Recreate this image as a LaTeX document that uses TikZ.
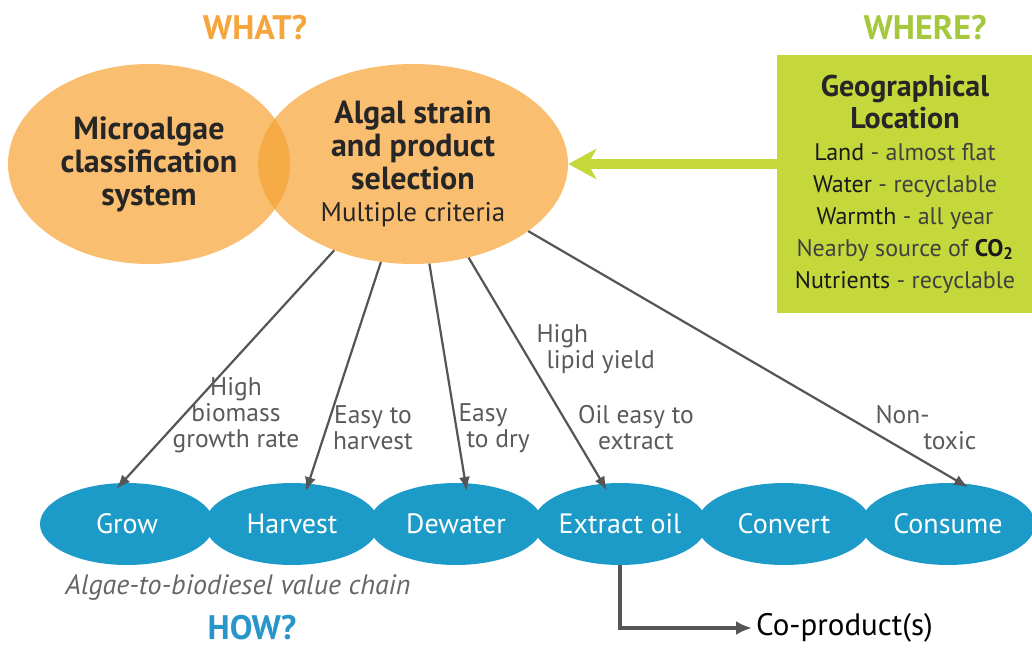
\documentclass[tikz,border=0pt]{standalone}
\usepackage{fontspec}
\setmainfont{PT Sans}
\usetikzlibrary{arrows.meta,positioning,shapes.geometric}
\definecolor{algorange}{HTML}{FABE70}
\definecolor{algoverlap}{HTML}{F5AC46}
\definecolor{whatorange}{HTML}{F5A53C}
\definecolor{wheregreen}{HTML}{A5C83C}
\definecolor{geogreen}{HTML}{C4D83C}
\definecolor{chainblue}{HTML}{1C9BC8}
\definecolor{howblue}{HTML}{2896C8}
\definecolor{critgray}{HTML}{5A5A5A}
\definecolor{linkgray}{HTML}{555555}
\tikzset{
  bigoval/.style={ellipse, fill=algorange, inner sep=0pt, align=center, text=black!85, font=\bfseries\fontsize{32}{33}\selectfont},
  chainoval/.style={ellipse, fill=chainblue, inner sep=0pt, minimum width=174pt, minimum height=82pt, text=white, font=\fontsize{28}{30}\selectfont},
  geobox/.style={rectangle, fill=geogreen, inner sep=0pt, minimum width=256pt, minimum height=258pt, align=center, text=black!75, font=\fontsize{24}{32}\selectfont},
  crit/.style={align=center, text=critgray, font=\fontsize{25.5}{26}\selectfont},
  question/.style={font=\bfseries\fontsize{34}{36}\selectfont},
  link/.style={-{Latex[length=14pt,width=11pt]}, draw=linkgray, line width=2.2pt, shorten >=-8pt},
  geoarrow/.style={-{Stealth[length=28pt,width=30pt,inset=8pt]}, draw=geogreen, line width=10pt},
  coarrow/.style={-{Latex[length=16pt,width=14pt]}, draw=linkgray, line width=4pt}
}
\newcommand{\geokey}[1]{\textcolor{black!90}{#1}}

\begin{document}
\begin{tikzpicture}[x=1pt, y=-1pt]
  \useasboundingbox (0,0) rectangle (1032,650);
  \clip (0,0) rectangle (1032,650);

  % what
  \node[question, text=whatorange] (what) at (255,28) {WHAT?};
  \node[bigoval, minimum width=282pt, minimum height=200pt] (classif) at (149,164) {Microalgae\\classification\\system};
  \node[bigoval, minimum width=310pt, minimum height=200pt] (sel) at (413,164) {Algal strain\\and product\\selection\\[-1pt]\mdseries\fontsize{27}{30}\selectfont Multiple criteria};
  \begin{scope}
    \clip (149,164) ellipse [x radius=141pt, y radius=100pt];
    \fill[algoverlap] (413,164) ellipse [x radius=155pt, y radius=100pt];
  \end{scope}

  % where
  \node[question, text=wheregreen] (where) at (925,28) {WHERE?};
  \node[geobox] (geo) at (905,184) {\textcolor{black!85}{\bfseries\fontsize{30}{32}\selectfont Geographical}\\
    \textcolor{black!85}{\bfseries\fontsize{30}{32}\selectfont Location}\\
    \geokey{Land} - almost flat\\
    \geokey{Water} - recyclable\\
    \geokey{Warmth} - all year\\
    Nearby source of \geokey{\bfseries CO\textsubscript{2}}\\
    \geokey{Nutrients} - recyclable};
  \draw[geoarrow] (geo.west |- sel.east) -- (sel.east);

  % how
  \node[chainoval] (grow) at (127,524) {Grow};
  \node[chainoval] (harv) at (292,524) {Harvest};
  \node[chainoval] (dew) at (456,524) {Dewater};
  \node[chainoval] (ext) at (620,524) {Extract oil};
  \node[chainoval] (conv) at (784,524) {Convert};
  \node[chainoval] (cons) at (948,524) {Consume};
  \node[font=\itshape\fontsize{28}{30}\selectfont, text=black!60] (chain) at (238,588) {Algae-to-biodiesel value chain};
  \node[question, text=howblue] (how) at (252,628) {HOW?};

  % criteria
  \draw[link] (sel) -- (grow.97);
  \draw[link] (sel) -- (harv.68);
  \draw[link] (sel) -- (dew.77);
  \draw[link] (sel) -- (ext.113);
  \draw[link] (sel) -- (cons.72);
  \node[crit] (biomass) at (236,415) {High\\biomass\\growth rate};
  \node[crit] (easyharv) at (373,428) {Easy to\\harvest};
  \node[crit, align=left, anchor=west] (easydry) at (455,428) {Easy\\\hspace*{8pt}to dry};
  \node[crit, align=left, anchor=west] (lipid) at (533,349) {High\\\hspace*{10pt}lipid yield};
  \node[crit] (oileasy) at (636,428) {Oil easy to\\extract};
  \node[crit, align=left, anchor=west] (nontox) at (872,428) {Non-\\\hspace*{48pt}toxic};

  % co-products
  \node[anchor=west, inner sep=4pt, font=\fontsize{31}{33}\selectfont] (coprod) at (752,628) {Co-product(s)};
  \draw[coarrow] (ext.south) |- (coprod.west);
\end{tikzpicture}
\end{document}
